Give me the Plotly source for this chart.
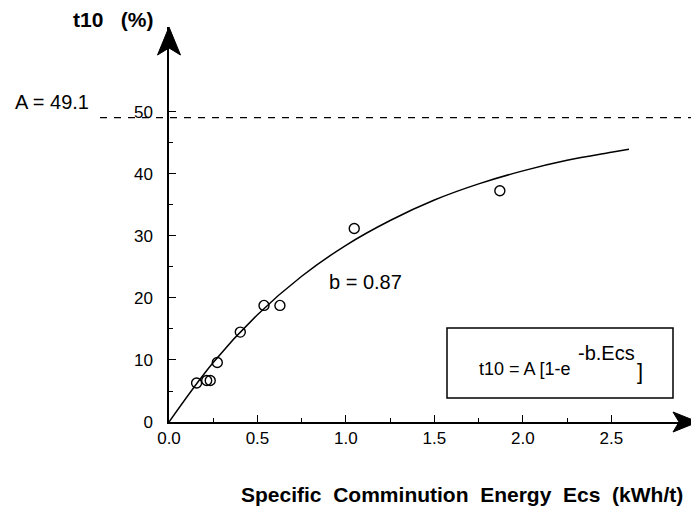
import plotly.graph_objects as go

# measured data points (Ecs in kWh/t, t10 in %)
ecs_points = [0.156, 0.213, 0.233, 0.273, 0.403, 0.537, 0.627, 1.047, 1.87]
t10_points = [6.3, 6.7, 6.7, 9.6, 14.5, 18.8, 18.8, 31.2, 37.3]

# fitted curve
ecs_curve = [0.0, 0.25, 0.5, 0.75, 1.0, 1.25, 1.5, 1.75, 2.0, 2.25, 2.5, 2.6]
t10_curve = [0.0, 9.6, 17.3, 23.5, 28.5, 32.5, 35.8, 38.4, 40.5, 42.2, 43.5, 44.0]

A_value = 49.1
x_ticks = [0.0, 0.5, 1.0, 1.5, 2.0, 2.5]
x_tick_labels = ["0.0", "0.5", "1.0", "1.5", "2.0", "2.5"]
x_minor = [0.25, 0.75, 1.25, 1.75, 2.25]
y_ticks = [0, 10, 20, 30, 40, 50]
y_tick_labels = ["0", "10", "20", "30", "40", "50"]
y_minor = [5, 15, 25, 35, 45]

X_MAX = 2.99   # x-axis arrow tip
Y_MAX = 63.7   # y-axis arrow tip

FONT = "Liberation Sans, Arial, Helvetica, sans-serif"

# layout geometry (figure pixels); page has an 8px body offset
FIG_W, FIG_H = 691, 501
L, T, B = 161, 19, 87
W = round(X_MAX * 177)
H = FIG_H - T - B
R = max(FIG_W - L - W, 0)
OFF = 8

def px(xp):
    return (xp - OFF - L) / W

def py(yp):
    return (T + H - (yp - OFF)) / H

fig = go.Figure()
fig.add_trace(go.Scatter(x=ecs_curve, y=t10_curve, mode="lines",
                         line=dict(color="black", width=1.5, shape="spline"),
                         hoverinfo="skip", showlegend=False))
fig.add_trace(go.Scatter(x=ecs_points, y=t10_points, mode="markers",
                         marker=dict(symbol="circle-open", size=10, color="black",
                                     line=dict(width=1.4, color="black")),
                         showlegend=False))

fig.update_layout(
    width=FIG_W, height=FIG_H,
    margin=dict(l=L, r=R, t=T, b=B),
    paper_bgcolor="white", plot_bgcolor="white",
    font=dict(family=FONT, size=17, color="black"),
    xaxis=dict(range=[0, X_MAX], tickvals=x_ticks, ticktext=x_tick_labels,
               ticks="inside", ticklen=7, tickwidth=1.2, tickcolor="black",
               showline=True, linecolor="black", linewidth=1.5,
               showgrid=False, zeroline=False, ticklabelstandoff=0,
               minor=dict(tickvals=x_minor, ticks="inside", ticklen=4,
                          tickwidth=1, tickcolor="black", showgrid=False),
               tickfont=dict(size=17, family=FONT)),
    yaxis=dict(range=[0, Y_MAX], tickvals=y_ticks, ticktext=y_tick_labels,
               ticks="inside", ticklen=7, tickwidth=1.2, tickcolor="black",
               showline=True, linecolor="black", linewidth=1.5,
               showgrid=False, zeroline=False, ticklabelstandoff=11,
               minor=dict(tickvals=y_minor, ticks="inside", ticklen=4,
                          tickwidth=1, tickcolor="black", showgrid=False),
               tickfont=dict(size=17, family=FONT)),
)

# dashed asymptote line
fig.add_shape(type="line", xref="paper", yref="y", x0=px(100), x1=px(699),
              y0=A_value, y1=A_value, line=dict(color="black", width=1.3, dash="7px,7px"))

# formula box
fig.add_shape(type="rect", xref="paper", yref="paper", x0=px(447), x1=px(673),
              y0=py(398), y1=py(328), line=dict(color="black", width=1.5))

# axis arrowheads (pixel-sized paths anchored at the axis tips, paper refs -> not clipped)
fig.add_shape(type="path", xref="paper", yref="paper", xsizemode="pixel", ysizemode="pixel",
              xanchor=0, yanchor=1,
              path="M0,0 L-11.5,-28 L0,-21 L11.5,-28 Z",
              fillcolor="black", line=dict(color="black", width=1))
fig.add_shape(type="path", xref="paper", yref="paper", xsizemode="pixel", ysizemode="pixel",
              xanchor=1, yanchor=0,
              path="M0,0 L-25,10 L-19,0 L-25,-10 Z",
              fillcolor="black", line=dict(color="black", width=1))

def txt(text, x, y, size=20, bold=False, xanchor="center"):
    fig.add_annotation(text=f"<b>{text}</b>" if bold else text, x=x, y=y,
                       xref="paper", yref="paper", showarrow=False,
                       xanchor=xanchor, yanchor="middle",
                       font=dict(family=FONT, size=size, color="black"))

txt("t10   (%)", px(113), py(20), size=21, bold=True)
txt(f"A = {A_value}", px(52), py(102))
txt("b = 0.87", px(365.5), py(282))
txt("t10 = A [1-e", px(573), py(369), size=18, xanchor="right")
txt("-b.Ecs", px(576), py(353), size=20, xanchor="left")
txt("]", px(640), py(371), size=22)
txt("Specific  Comminution  Energy  Ecs  (kWh/t)", px(462), py(494), size=21, bold=True)

fig.write_html("out.html")
